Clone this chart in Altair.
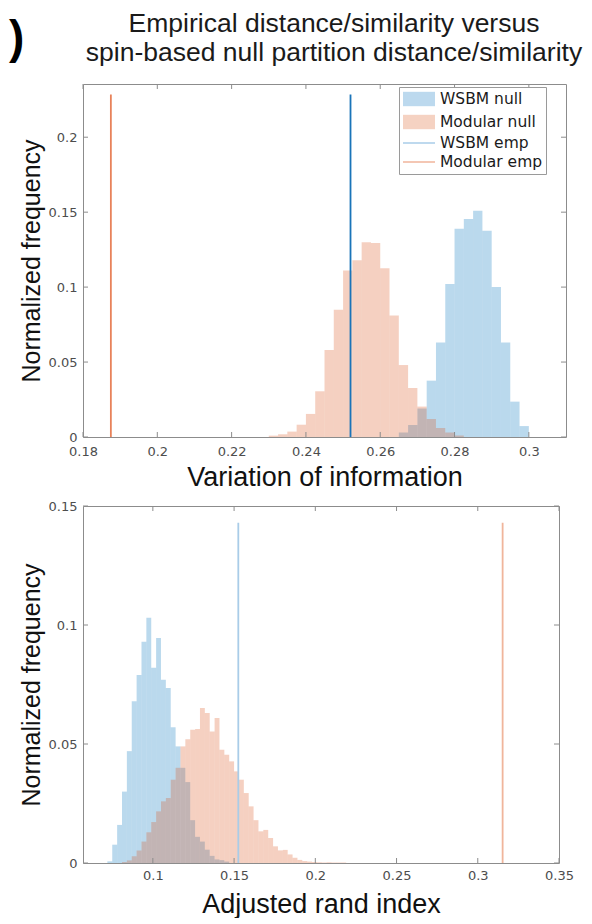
import altair as alt
import pandas as pd

# ---------------- data ----------------
TITLE_LINES = ["Empirical distance/similarity versus",
               "spin-based null partition distance/similarity"]
PANEL_MARK = ")"
LEGEND_NAMES = ["WSBM null", "Modular null", "WSBM emp", "Modular emp"]
Y_TITLE = "Normalized frequency"

# Panel 1: variation of information
VI_TITLE = "Variation of information"
VI_BIN_WIDTH = 0.0025
vi_wsbm_bin_left = [0.265, 0.2675, 0.27, 0.2725, 0.275, 0.2775, 0.28, 0.2825,
                    0.285, 0.2875, 0.29, 0.2925, 0.295, 0.2975]
vi_wsbm_freq = [0.003, 0.008, 0.019, 0.0376, 0.063, 0.102, 0.139, 0.1454,
                0.151, 0.1376, 0.100, 0.063, 0.0236, 0.0073]
vi_mod_bin_left = [0.23, 0.2325, 0.235, 0.2375, 0.24, 0.2425, 0.245, 0.2475,
                   0.25, 0.2525, 0.255, 0.2575, 0.26, 0.2625, 0.265, 0.2675,
                   0.27, 0.2725, 0.275, 0.2775, 0.28]
vi_mod_freq = [0.0009, 0.0018, 0.0036, 0.0082, 0.0154, 0.0305, 0.058, 0.0849,
               0.111, 0.118, 0.130, 0.1294, 0.1125, 0.081, 0.048, 0.0327,
               0.0203, 0.012, 0.006, 0.003, 0.001]
vi_emp_names = ["WSBM emp", "Modular emp"]
vi_emp_values = [0.252, 0.1875]
vi_emp_top = 0.2285
vi_xdomain = [0.18, 0.31]
vi_ydomain = [0.0, 0.2355]
vi_xticks = [0.18, 0.2, 0.22, 0.24, 0.26, 0.28, 0.3]
vi_yticks = [0.0, 0.05, 0.1, 0.15, 0.2]

# Panel 2: adjusted rand index
ARI_TITLE = "Adjusted rand index"
ARI_BIN_WIDTH = 0.003
ari_wsbm_bin_left = [0.072, 0.075, 0.078, 0.081, 0.084, 0.087, 0.090, 0.093,
                     0.096, 0.099, 0.102, 0.105, 0.108, 0.111, 0.114, 0.117,
                     0.120, 0.123, 0.126, 0.129, 0.132, 0.135, 0.138, 0.141,
                     0.144]
ari_wsbm_freq = [0.0007, 0.0077, 0.016, 0.030, 0.047, 0.068, 0.079, 0.093,
                 0.103, 0.082, 0.0945, 0.077, 0.0735, 0.057, 0.049, 0.040,
                 0.034, 0.018, 0.011, 0.009, 0.0056, 0.003, 0.0015, 0.0012,
                 0.0006]
ari_mod_bin_left = [0.081, 0.084, 0.087, 0.090, 0.093, 0.096, 0.099, 0.102,
                    0.105, 0.108, 0.111, 0.114, 0.117, 0.120, 0.123, 0.126,
                    0.129, 0.132, 0.135, 0.138, 0.141, 0.144, 0.147, 0.150,
                    0.153, 0.156, 0.159, 0.162, 0.165, 0.168, 0.171, 0.174,
                    0.177, 0.180, 0.183, 0.186, 0.189, 0.192, 0.195, 0.198,
                    0.201, 0.204, 0.207, 0.210, 0.213, 0.216]
ari_mod_freq = [0.0004, 0.0011, 0.0028, 0.0052, 0.009, 0.0129, 0.0172, 0.0217,
                0.0259, 0.0273, 0.035, 0.040, 0.049, 0.052, 0.056, 0.0563,
                0.0651, 0.063, 0.0553, 0.0609, 0.0476, 0.0455, 0.0427, 0.0385,
                0.035, 0.0294, 0.0238, 0.018, 0.0133, 0.0139, 0.0105, 0.007,
                0.0053, 0.0055, 0.0036, 0.0022, 0.0013, 0.0008, 0.0006, 0.0004,
                0.0003, 0.0002, 0.0003, 0.0002, 0.0002, 0.0002]
ari_emp_names = ["WSBM emp", "Modular emp"]
ari_emp_values = [0.1526, 0.3153]
ari_emp_top = 0.143
ari_xdomain = [0.057, 0.35]
ari_ydomain = [0.0, 0.15]
ari_xticks = [0.1, 0.15, 0.2, 0.25, 0.3, 0.35]
ari_yticks = [0.0, 0.05, 0.1, 0.15]

# ---------------- styles ----------------
BLUE = "#0072BD"
ORANGE = "#D95319"
TRANSP = "rgba(0,0,0,0)"
BAR_ALPHA = 0.27
AXIS_GRAY = "#8c8c8c"
TITLE_FONT = "Liberation Sans"
TICK_FONT = "DejaVu Sans"
RECT_PATH = "M-1,-0.9H3V0.9H-1Z"
LINE_PATH = "M-1,0H3"
LABEL_EXPR = "format(datum.value, '~g')"


def hist_df(left, freq, width):
    return pd.DataFrame({"lo": left, "hi": [v + width for v in left],
                         "freq": freq, "base": [0.0] * len(left)})


def panel(w_left, w_freq, m_left, m_freq, binw, emp_vals, emp_colors, emp_top,
          xdom, ydom, xticks, yticks, xtitle, W, H, lab_pad, title_pad,
          extra_layers=()):
    xs = alt.Scale(domain=xdom, nice=False, zero=False)
    ys = alt.Scale(domain=ydom, nice=False, zero=False)
    xaxis = alt.Axis(values=xticks, labelExpr=LABEL_EXPR, title=xtitle,
                     labelPadding=lab_pad, titlePadding=title_pad,
                     titleFontSize=27, labelFlush=False)
    yaxis = alt.Axis(values=yticks, labelExpr=LABEL_EXPR, title=Y_TITLE,
                     labelPadding=6, titlePadding=4, titleFontSize=25,
                     labelFlush=False)

    def X(f):
        return alt.X(f, scale=xs, axis=xaxis)

    def Y(f):
        return alt.Y(f, scale=ys, axis=yaxis)

    wsbm = alt.Chart(hist_df(w_left, w_freq, binw)).mark_rect(
        color=BLUE, opacity=BAR_ALPHA).encode(
        x=X("lo:Q"), x2="hi:Q", y=Y("freq:Q"), y2="base:Q")
    mod = alt.Chart(hist_df(m_left, m_freq, binw)).mark_rect(
        color=ORANGE, opacity=BAR_ALPHA).encode(
        x=X("lo:Q"), x2="hi:Q", y=Y("freq:Q"), y2="base:Q")
    emp_df = pd.DataFrame({"v": emp_vals, "base": [0.0] * len(emp_vals),
                           "top": [emp_top] * len(emp_vals), "c": emp_colors})
    emp = alt.Chart(emp_df).mark_rule(strokeWidth=1.8).encode(
        x=X("v:Q"), y=Y("base:Q"), y2="top:Q",
        color=alt.Color("c:N", scale=None))

    xt = pd.DataFrame({"t": xticks})
    yt = pd.DataFrame({"t": yticks})
    tick_b = alt.Chart(xt).mark_rule(color=AXIS_GRAY).encode(
        x=X("t:Q"), y=alt.value(H), y2=alt.value(H - 5))
    tick_t = alt.Chart(xt).mark_rule(color=AXIS_GRAY).encode(
        x=X("t:Q"), y=alt.value(0), y2=alt.value(5))
    tick_l = alt.Chart(yt).mark_rule(color=AXIS_GRAY).encode(
        y=Y("t:Q"), x=alt.value(0), x2=alt.value(5))
    tick_r = alt.Chart(yt).mark_rule(color=AXIS_GRAY).encode(
        y=Y("t:Q"), x=alt.value(W), x2=alt.value(W - 5))

    return alt.layer(wsbm, mod, emp, tick_b, tick_t, tick_l, tick_r,
                     *extra_layers).properties(width=W, height=H)


# ---- extras on the top panel: title lines, panel mark, legend ----
title1 = alt.Chart(pd.DataFrame({"t": [TITLE_LINES[0]]})).mark_text(
    font=TITLE_FONT, fontSize=26.5, align="center", baseline="alphabetic",
    color="#1a1a1a").encode(text="t:N", x=alt.value(251), y=alt.value(-52))
title2 = alt.Chart(pd.DataFrame({"t": [TITLE_LINES[1]]})).mark_text(
    font=TITLE_FONT, fontSize=26.5, align="center", baseline="alphabetic",
    color="#1a1a1a").encode(text="t:N", x=alt.value(251), y=alt.value(-23))
pmark = alt.Chart(pd.DataFrame({"t": [PANEL_MARK]})).mark_text(
    font=TITLE_FONT, fontSize=46, fontWeight="bold", align="left",
    baseline="alphabetic", color="#000000").encode(
    text="t:N", x=alt.value(-74), y=alt.value(-31))

leg = alt.Legend(title=None, orient="none", legendX=316, legendY=3,
                 symbolSize=256, labelFont=TICK_FONT, labelFontSize=15.5,
                 labelColor="#1a1a1a", labelOffset=20, padding=3,
                 rowPadding=1, strokeColor="#9a9a9a", fillColor="white",
                 symbolStrokeWidth=1.5, labelLimit=300)
legend_layer = alt.Chart(pd.DataFrame({"entry": LEGEND_NAMES})).mark_point(
    filled=True, opacity=1, clip=True).encode(
    x=alt.value(-1000), y=alt.value(-1000),
    fill=alt.Fill("entry:N", scale=alt.Scale(domain=LEGEND_NAMES,
                  range=["#bcd9ee", "#f5d2c2", TRANSP, TRANSP]), legend=leg),
    stroke=alt.Stroke("entry:N", scale=alt.Scale(domain=LEGEND_NAMES,
                      range=[TRANSP, TRANSP, "#a9cce8", "#f0b59b"]), legend=leg),
    shape=alt.Shape("entry:N", scale=alt.Scale(domain=LEGEND_NAMES,
                    range=[RECT_PATH, RECT_PATH, LINE_PATH, LINE_PATH]), legend=leg),
)

top = panel(vi_wsbm_bin_left, vi_wsbm_freq, vi_mod_bin_left, vi_mod_freq,
            VI_BIN_WIDTH, vi_emp_values, ["#1a74b9", "#e8825a"], vi_emp_top,
            vi_xdomain, vi_ydomain, vi_xticks, vi_yticks, VI_TITLE,
            483, 353, 8, 6, extra_layers=(title1, title2, pmark, legend_layer))
bottom = panel(ari_wsbm_bin_left, ari_wsbm_freq, ari_mod_bin_left, ari_mod_freq,
               ARI_BIN_WIDTH, ari_emp_values, ["#a9cce8", "#f0b59b"], ari_emp_top,
               ari_xdomain, ari_ydomain, ari_xticks, ari_yticks, ARI_TITLE,
               476, 357, 6, 9)

chart = alt.vconcat(top, bottom, spacing=8).properties(
    padding={"left": 0, "top": 2, "right": 0, "bottom": 0}
).configure_view(stroke=AXIS_GRAY, strokeWidth=1).configure_axis(
    domain=False, ticks=False, grid=False, labelFont=TICK_FONT,
    labelFontSize=13, labelColor="#4d4d4d", titleFont=TITLE_FONT,
    titleFontWeight="normal", titleColor="#111111"
)

chart.save("out.html", embed_options={"renderer": "svg", "actions": False})
